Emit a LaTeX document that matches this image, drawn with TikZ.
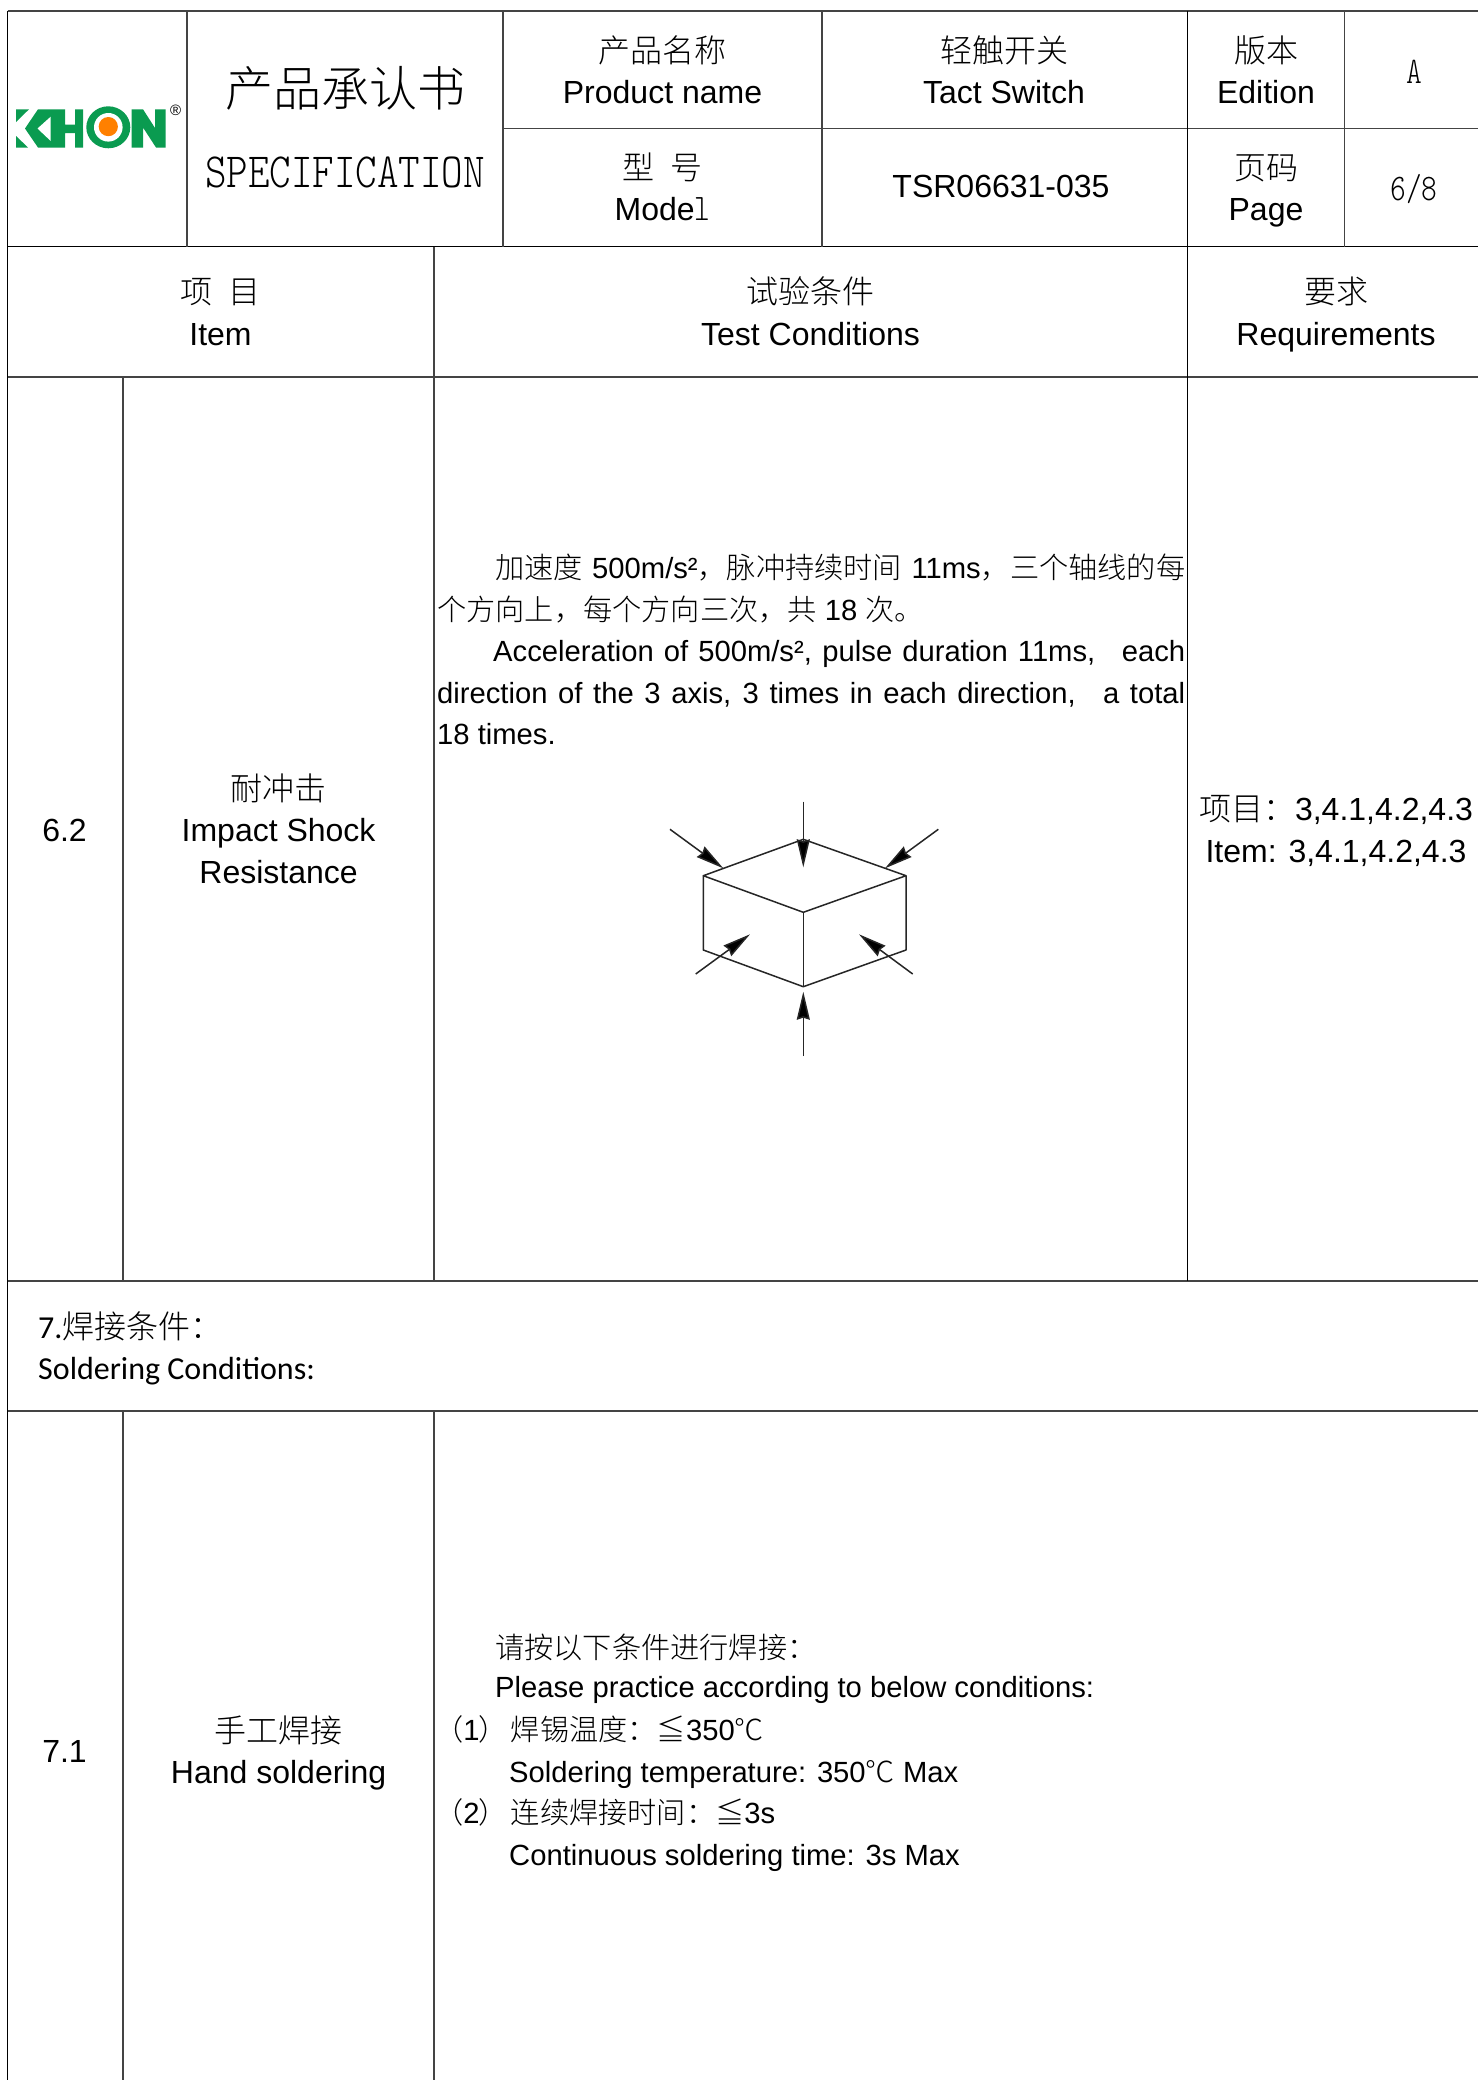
\documentclass[tikz,border=0pt]{standalone}
\usepackage{fontspec}
\usepackage{graphicx}
\usetikzlibrary{arrows.meta}
\setmainfont{Liberation Sans}
\setmonofont{Latin Modern Mono Light}
\newfontfamily\cjk{Noto Sans CJK SC}[UprightFont=* Light]
\newfontfamily\cali{Carlito}
\newcommand{\zh}[1]{{\cjk #1}}
\newcommand{\mon}[2]{\scalebox{1}[#2]{\ttfamily #1}}
\newcommand{\fsz}[1]{\fontsize{#1}{#1}\selectfont}
\definecolor{rule}{HTML}{444444}
\definecolor{kgreen}{HTML}{0A9B50}
\definecolor{korange}{HTML}{FF8000}
\tikzset{
  gridg/.style={draw=rule,line width=1.6pt},
  gridk/.style={draw=black,line width=1.4pt},
  tx/.style={anchor=base,inner sep=0pt,font=\fsz{32},text=black},
  lx/.style={anchor=base west,inner sep=0pt,font=\fsz{29.2},text=black},
  cube/.style={draw=black!85,line width=1.5pt,line join=round},
  force/.style={draw=black!85,line width=1.5pt,-{Stealth[length=28pt,width=13pt,inset=2pt,fill=black]}}
}
\begin{document}
\begin{tikzpicture}[x=1pt,y=-1pt]
\useasboundingbox (0,0) rectangle (1478,2080);
\fill[white] (0,0) rectangle (1478,2080);
% grid
\draw[gridg] (7.5,11) -- (1478,11);
\draw[gridg] (503,128.5) -- (1478,128.5);
\draw[gridk] (7.5,246.7) -- (1478,246.7);
\draw[gridg] (7.5,377) -- (1478,377);
\draw[gridg] (7.5,1280.7) -- (1478,1280.7);
\draw[gridg] (7.5,1410.7) -- (1478,1410.7);
\draw[gridk] (7.5,11) -- (7.5,2080);
\draw[gridg] (187,11) -- (187,246.7);
\draw[gridg] (503,11) -- (503,246.7);
\draw[gridg] (822,11) -- (822,246.7);
\draw[gridk] (1187.5,11) -- (1187.5,1280.7);
\draw[gridg] (1344.5,11) -- (1344.5,246.7);
\draw[gridg] (434,246.7) -- (434,1280.7);
\draw[gridg] (123,377) -- (123,1280.7);
\draw[gridg] (123,1410.7) -- (123,2080);
\draw[gridg] (434,1410.7) -- (434,2080);
% logo
\begin{scope}[fill=kgreen]
\fill (16,109.3) -- (29,109.3) -- (16,122) -- cycle;
\fill (16,136) -- (28,147.5) -- (16,147.5) -- cycle;
\fill (25,128.5) -- (38,109.3) -- (65,109.3) -- (65,124.5) -- (75,124.5) -- (75,109.3) -- (83,109.3) -- (83,147.5) -- (75,147.5) -- (75,133) -- (65,133) -- (65,147.5) -- (38,147.5) -- cycle;
\fill[white] (37.5,128.5) -- (50.7,116.7) -- (50.7,141) -- cycle;
\fill[white] (108.3,127.3) ellipse (25 and 23);
\fill (108.3,127.3) ellipse (22 and 21);
\fill[white] (108.3,127.3) circle (14.3);
\fill[korange] (108.3,126.6) circle (9.6);
\fill (131.7,109.3) -- (143,109.3) -- (155,128) -- (155,109.3) -- (165.5,109.3) -- (165.5,147.5) -- (156,147.5) -- (143,127.5) -- (143,147.5) -- (131.7,147.5) -- cycle;
\end{scope}
\node[tx,font=\fsz{15}] (reg) at (175.7,115) {®};
% header
\node[tx,font=\fsz{48}] (title) at (345,106) {\zh{产品承认书}};
\node[tx] (spec) at (345,187) {\fsz{41}\mon{SPECIFICATION}{1.2}};
\node[tx] (n1) at (662.5,62) {\zh{产品名称}};
\node[tx] (n2) at (662.5,103) {Product name};
\node[tx] (m1) at (662.5,179.5) {\zh{型\hspace{16pt}号}};
\node[tx] (m2) at (662.5,220) {Mode\fsz{30}\mon{l}{1.25}};
\node[tx] (t1) at (1004,62) {\zh{轻触开关}};
\node[tx] (t2) at (1004,103) {Tact Switch};
\node[tx] (mdl) at (1001,197) {TSR06631-035};
\node[tx] (e1) at (1266,62) {\zh{版本}};
\node[tx] (e2) at (1266,103) {Edition};
\node[tx] (p1) at (1266,179.5) {\zh{页码}};
\node[tx] (p2) at (1266,220) {Page};
\node[tx] (ver) at (1414,83) {\fsz{30}\mon{A}{1.25}};
\node[tx] (pg) at (1414,200) {\fsz{30}\mon{6/8}{1.25}};
% column heads
\node[tx] (h1) at (220.5,303.5) {\zh{项\hspace{16pt}目}};
\node[tx] (h2) at (220.5,345) {Item};
\node[tx] (h3) at (810.5,303.5) {\zh{试验条件}};
\node[tx] (h4) at (810.5,345) {Test Conditions};
\node[tx] (h5) at (1336,303.5) {\zh{要求}};
\node[tx] (h6) at (1336,345) {Requirements};
% row 6.2
\node[tx] (r1) at (64.5,841) {6.2};
\node[tx] (r2) at (278.6,800.5) {\zh{耐冲击}};
\node[tx] (r3) at (278.6,841.5) {Impact Shock};
\node[tx] (r4) at (278.6,883) {Resistance};
\node[lx] (a1) at (495,578) {\makebox[690pt][s]{\zh{加速度} 500m/s²\zh{，脉冲持续时间} 11ms\zh{，三个轴线的每}}};
\node[lx] (a2) at (437,620) {\zh{个方向上，每个方向三次，共} 18 \zh{次。}};
\node[lx] (a3) at (493,661) {\makebox[692pt][s]{Acceleration of 500m/s², pulse duration 11ms,\hspace{16pt} each}};
\node[lx] (a4) at (437,703) {\makebox[748pt][s]{direction of the 3 axis, 3 times in each direction,\hspace{16pt} a total}};
\node[lx] (a5) at (437,744) {18 times.};
\node[tx] (q1) at (1336,820) {\zh{项目：}3,4.1,4.2,4.3};
\node[tx] (q2) at (1336,862) {Item: 3,4.1,4.2,4.3};
% cube
\coordinate (ct) at (803.3,839.3);
\coordinate (cl) at (703.3,875.7);
\coordinate (cr) at (906,875.7);
\coordinate (cc) at (803.3,912.3);
\coordinate (clb) at (703.3,950);
\coordinate (crb) at (906,950);
\coordinate (cb) at (803.3,986.7);
\draw[cube] (ct) -- (cr) -- (cc) -- (cl) -- cycle;
\draw[cube] (cl) -- (clb) -- (cb) -- (crb) -- (cr);
\draw[cube] (cc) -- (cb);
\coordinate (f1a) at (803.3,801.7); \coordinate (f1b) at (803.3,867.3);
\coordinate (f2a) at (670,829.3);   \coordinate (f2b) at (723.3,868.3);
\coordinate (f3a) at (938.3,829.3); \coordinate (f3b) at (885,868.3);
\coordinate (f4a) at (695.7,974);   \coordinate (f4b) at (750,934.3);
\coordinate (f5a) at (912.7,974);   \coordinate (f5b) at (859,934.3);
\coordinate (f6a) at (803.3,1056);  \coordinate (f6b) at (803.3,991.7);
\draw[force] (f1a) -- (f1b);
\draw[force] (f2a) -- (f2b);
\draw[force] (f3a) -- (f3b);
\draw[force] (f4a) -- (f4b);
\draw[force] (f5a) -- (f5b);
\draw[force] (f6a) -- (f6b);
% section 7
\node[lx,font=\fsz{32}] (s1) at (38,1338) {\cali 7.\zh{焊接条件：}};
\node[lx,font=\fsz{32}] (s2) at (38,1379) {\cali Soldering Conditions:};
\node[tx] (u1) at (64.5,1762) {7.1};
\node[tx] (u2) at (278.6,1742) {\zh{手工焊接}};
\node[tx] (u3) at (278.6,1783) {Hand soldering};
\node[lx] (b1) at (495,1658) {\zh{请按以下条件进行焊接：}};
\node[lx] (b2) at (495,1697.5) {Please practice according to below conditions:};
\node[lx] (b3) at (434,1740) {\zh{（}1\hspace{-1pt}\zh{）}\hspace{3pt}\zh{焊锡温度：≦}350\zh{℃}};
\node[lx] (b4) at (509,1782) {Soldering temperature: 350\zh{℃} Max};
\node[lx] (b5) at (434,1823) {\zh{（}2\hspace{-1pt}\zh{）}\hspace{3pt}\zh{连续焊接时间：≦}3s};
\node[lx] (b6) at (509,1865) {Continuous soldering time: 3s Max};
\end{tikzpicture}
\end{document}
